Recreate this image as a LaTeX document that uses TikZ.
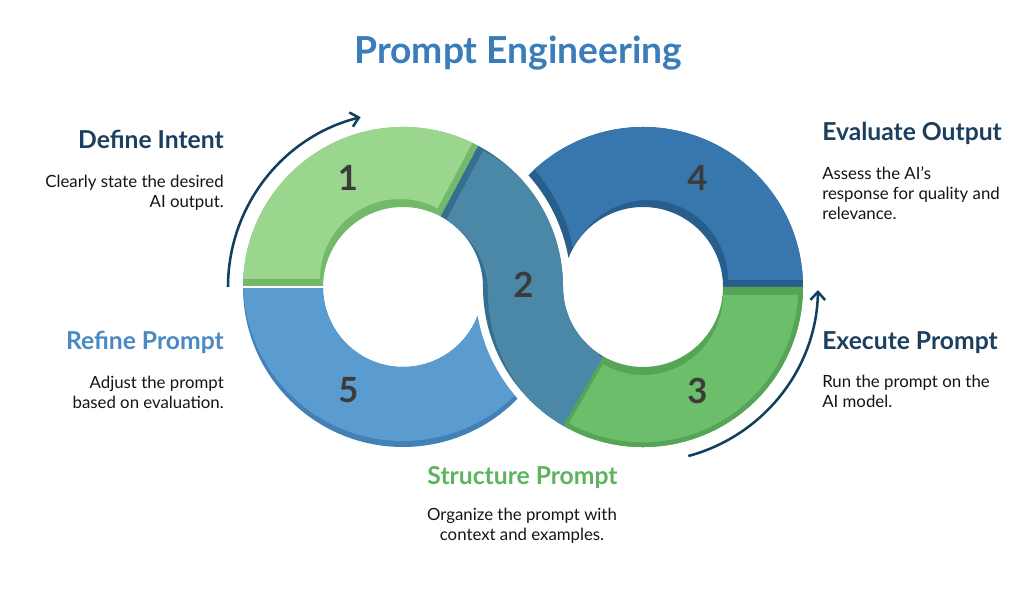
\documentclass[tikz,border=0pt]{standalone}
\usepackage{fontspec}
\setmainfont{Lato}
\usetikzlibrary{arrows.meta}
\definecolor{s1}{HTML}{9AD68D}\definecolor{s1d}{HTML}{72BA69}
\definecolor{s2}{HTML}{4B88A8}\definecolor{s2d}{HTML}{356F8F}
\definecolor{s3}{HTML}{6DBE6B}\definecolor{s3d}{HTML}{56A456}
\definecolor{s4}{HTML}{3777AD}\definecolor{s4d}{HTML}{275E8C}
\definecolor{s5}{HTML}{5A9CD0}\definecolor{s5d}{HTML}{4380B5}
\definecolor{navy}{HTML}{1B3F5F}
\definecolor{titlec}{HTML}{3A7DB9}
\definecolor{refc}{HTML}{4A89C4}
\definecolor{strc}{HTML}{5CB55E}
\definecolor{bodyc}{HTML}{151515}
\definecolor{numc}{HTML}{3B3B3B}
\definecolor{arrc}{HTML}{123F5E}
\newcommand\Lp[2]{([shift={(403,308)}]#1:#2)}
\newcommand\Rp[2]{([shift={(643,308)}]#1:#2)}
\newcommand\segA{\Lp{62}{80} -- \Lp{62}{160} arc[start angle=62,end angle=180,radius=160] -- \Lp{180}{80} arc[start angle=180,end angle=62,radius=80] -- cycle}
\newcommand\segB{\Lp{62}{160} arc[start angle=62,end angle=0,radius=160] arc[start angle=180,end angle=240,radius=80] -- \Rp{240}{160} arc[start angle=240,end angle=180,radius=160] arc[start angle=0,end angle=62,radius=80] -- cycle}
\newcommand\segC{\Rp{240}{80} -- \Rp{240}{160} arc[start angle=240,end angle=360,radius=160] -- \Rp{0}{80} arc[start angle=360,end angle=240,radius=80] -- cycle}
\newcommand\segD{\Rp{0}{80} -- \Rp{0}{160} arc[start angle=0,end angle=135.71,radius=160] arc[start angle=41.69,end angle=9.96,radius=168] arc[start angle=158.70,end angle=0,radius=80] -- cycle}
\newcommand\segE{\Lp{180}{80} -- \Lp{180}{160} arc[start angle=180,end angle=315.71,radius=160] arc[start angle=221.69,end angle=189.96,radius=168] arc[start angle=338.70,end angle=180,radius=80] -- cycle}
\tikzset{
  head/.style={font=\fontsize{18.5}{22}\selectfont\bfseries, inner sep=0},
  body/.style={font=\fontsize{12.6}{15.1}\selectfont, text=bodyc, inner sep=0},
  num/.style={font=\fontsize{26}{26}\selectfont\bfseries, text=numc, inner sep=0},
  arr/.style={draw=arrc, line width=1.9pt, -{Straight Barb[length=6pt,width=11pt,line width=1.9pt]}},
}
\begin{document}
\begin{tikzpicture}[x=0.75pt,y=0.75pt]
\useasboundingbox (0,0) rectangle (1024,595);
\fill[white] (0,0) rectangle (1024,595);
% segment 1
\fill[s1d] \segA;
\begin{scope}\clip \segA; \fill[s1, shift={(-3,8)}] \segA; \end{scope}
% segment 5
\fill[s5d] \segE;
\begin{scope}\clip \segE; \fill[s5, shift={(0,6)}] \segE; \end{scope}
\draw[white, line width=1.6pt] \Lp{180}{76} -- \Lp{180}{164};
% segment 4
\fill[s4d] \segD;
\begin{scope}\clip \segD; \fill[s4, shift={(5,7)}] \segD; \end{scope}
% segment 3
\fill[s3d] \segC;
\begin{scope}\clip \segC; \fill[s3, shift={(0,-8)}] \segC;
  \draw[s3d, line width=7] \Rp{240}{160} arc[start angle=240,end angle=360,radius=160];
\end{scope}
% segment 2
\fill[s2d] \segB;
\begin{scope}\clip \segB; \fill[s2, shift={(5,-5)}] \segB; \end{scope}
% numbers
\node[num] (n1) at (348,417.5) {1};
\node[num] (n2) at (523.5,310.5) {2};
\node[num] (n3) at (697.5,204.5) {3};
\node[num] (n4) at (697.5,417.5) {4};
\node[num] (n5) at (348.5,204.5) {5};
% arrows
\draw[arr] \Lp{180}{175} arc[start angle=180,end angle=104,radius=175];
\draw[arr] \Rp{-75}{175} arc[start angle=-75,end angle=-1,radius=175];
% title
\node[font=\fontsize{27.9}{30}\selectfont\bfseries, text=titlec, anchor=base, inner sep=0] (title) at (518.5,531) {Prompt Engineering};
% texts (multi-line nodes: anchor base = last line)
\node[head, text=navy, anchor=base east] (h1) at (224,446.7) {Define Intent};
\node[body, anchor=base east, align=right] (b1) at (224,387.7) {Clearly state the desired\\AI output.};
\node[head, text=navy, anchor=base west] (h4) at (822,454.3) {Evaluate Output};
\node[body, anchor=base west, align=left] (b4) at (822,375.7) {Assess the AI’s\\response for quality and\\relevance.};
\node[head, text=refc, anchor=base east] (h5) at (224,245.7) {Refine Prompt};
\node[body, anchor=base east, align=right] (b5) at (224,186.7) {Adjust the prompt\\based on evaluation.};
\node[head, text=navy, anchor=base west] (h3) at (822,245.7) {Execute Prompt};
\node[body, anchor=base west, align=left] (b3) at (822,187.7) {Run the prompt on the\\AI model.};
\node[head, text=strc, anchor=base] (h2) at (522.5,110.7) {Structure Prompt};
\node[body, anchor=base, align=center] (b2) at (522,54.3) {Organize the prompt with\\context and examples.};
\end{tikzpicture}
\end{document}
